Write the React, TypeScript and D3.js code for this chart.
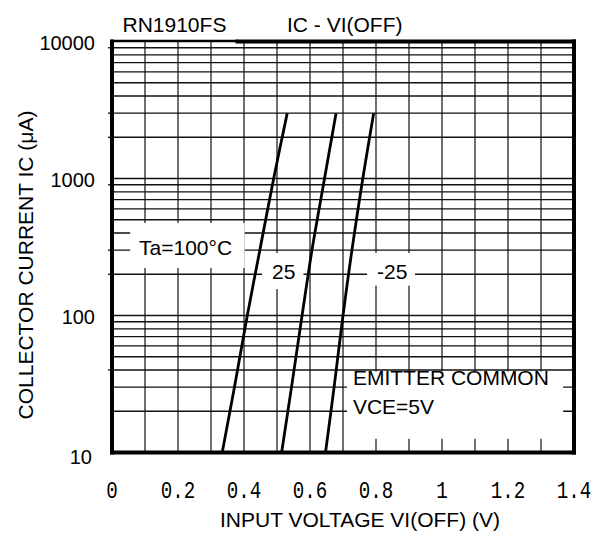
import React, { useEffect, useRef } from 'react'
import * as d3 from 'd3'

// collector current (µA) at which the curves were read
const current = [10, 30, 100, 300, 1000, 3000]
// input voltage VI(OFF) (V) for each temperature
const vTa100 = [0.334, 0.371, 0.410, 0.448, 0.490, 0.531]
const vTa25 = [0.514, 0.544, 0.576, 0.606, 0.644, 0.679]
const vTaM25 = [0.647, 0.673, 0.700, 0.727, 0.760, 0.793]

const xTicks = [0, 0.2, 0.4, 0.6, 0.8, 1, 1.2, 1.4]
const xTickLabels = ['0', '0.2', '0.4', '0.6', '0.8', '1', '1.2', '1.4']
const yTicks = [10, 100, 1000, 10000]
const yTickLabels = ['10', '100', '1000', '10000']

const W = 603
const H = 538
const M = { top: 41.5, right: 29, bottom: 85.5, left: 112 }
const FONT = '"Liberation Sans", Arial, sans-serif'
const MONO = '"Liberation Mono", "DejaVu Sans Mono", monospace'

const App = () => {
  const ref = useRef<SVGSVGElement>(null)

  useEffect(() => {
    const svg = d3.select(ref.current)
    svg.selectAll('*').remove()

    const x = d3.scaleLinear().domain([0, 1.4]).range([M.left, W - M.right])
    const y = d3.scaleLog().domain([10, 10000]).range([H - M.bottom, M.top])

    // grid
    const vGrid = d3.range(1, 14).map(i => i / 10)
    svg.append('g').selectAll('line').data(vGrid).join('line')
      .attr('x1', d => x(d)).attr('x2', d => x(d))
      .attr('y1', y(10)).attr('y2', y(10000))
      .attr('stroke', '#222').attr('stroke-width', 1.3)

    const hGrid = [10, 100, 1000]
      .flatMap(d => d3.range(1, 10).map(m => m * d))
      .filter(v => v > 10)
    svg.append('g').selectAll('line').data(hGrid).join('line')
      .attr('x1', x(0)).attr('x2', x(1.4))
      .attr('y1', d => y(d)).attr('y2', d => y(d))
      .attr('stroke', '#111').attr('stroke-width', 1.3)

    // little ticks sticking out left of the frame
    svg.append('g').selectAll('line').data([40, 200, 300, 900, 2000, 3000, 9000]).join('line')
      .attr('x1', x(0) - 4).attr('x2', x(0))
      .attr('y1', d => y(d)).attr('y2', d => y(d))
      .attr('stroke', '#111').attr('stroke-width', 1.3)

    // label backgrounds (they hide the grid)
    const boxes = [
      { v0: 0.055, v1: 0.402, i0: 473, i1: 222 },
      { v0: 0.455, v1: 0.58, i0: 286, i1: 156 },
      { v0: 0.773, v1: 0.918, i0: 286, i1: 165 },
      { v0: 0.712, v1: 1.367, i0: 39, i1: 12.6 },
    ]
    svg.append('g').selectAll('rect').data(boxes).join('rect')
      .attr('x', d => x(d.v0)).attr('y', d => y(d.i0))
      .attr('width', d => x(d.v1) - x(d.v0))
      .attr('height', d => y(d.i1) - y(d.i0))
      .attr('fill', 'white')

    // curves
    const line = d3.line<[number, number]>()
      .x(d => x(d[0])).y(d => y(d[1]))
      .curve(d3.curveCatmullRom)
    const series = [vTa100, vTa25, vTaM25]
    svg.append('g').selectAll('path').data(series).join('path')
      .attr('d', vs => line(vs.map((v, i) => [v, current[i]] as [number, number])))
      .attr('fill', 'none').attr('stroke', '#000').attr('stroke-width', 2.8)

    // frame
    const frame = svg.append('g').attr('stroke', '#000').attr('stroke-linecap', 'square')
    frame.append('line').attr('x1', x(0)).attr('x2', x(0)).attr('y1', y(10)).attr('y2', y(10000)).attr('stroke-width', 4)
    frame.append('line').attr('x1', x(1.4)).attr('x2', x(1.4)).attr('y1', y(10)).attr('y2', y(10000)).attr('stroke-width', 4)
    frame.append('line').attr('x1', x(0)).attr('x2', x(1.4)).attr('y1', y(10)).attr('y2', y(10)).attr('stroke-width', 4)
    frame.append('line').attr('x1', x(0.38)).attr('x2', x(1.4)).attr('y1', y(10000)).attr('y2', y(10000)).attr('stroke-width', 4)
    frame.append('line').attr('x1', x(0)).attr('x2', x(0.38)).attr('y1', y(10000) - 0.5).attr('y2', y(10000) - 0.5).attr('stroke-width', 2.5)

    // y tick labels
    svg.append('g').selectAll('text').data(yTicks).join('text')
      .attr('x', d => (d === 10 ? 92 : 95))
      .attr('y', d => y(d) + (d === 10 ? 11 : 8))
      .attr('text-anchor', 'end')
      .attr('font-family', FONT).attr('font-size', 20)
      .text((d, i) => yTickLabels[i])

    // x tick labels
    svg.append('g').selectAll('text').data(xTicks).join('text')
      .attr('x', d => x(d))
      .attr('y', 498)
      .attr('text-anchor', 'middle')
      .attr('font-family', MONO).attr('font-size', 24)
      .attr('textLength', (d, i) => xTickLabels[i].length * 11.5)
      .attr('lengthAdjust', 'spacingAndGlyphs')
      .text((d, i) => xTickLabels[i])

    const txt = (t: string, px: number, py: number, anchor = 'start') =>
      svg.append('text').attr('x', px).attr('y', py)
        .attr('text-anchor', anchor)
        .attr('font-family', FONT).attr('font-size', 21)
        .attr('fill', '#000').text(t)

    // titles
    txt('RN1910FS', 122.5, 32)
    txt('IC - VI(OFF)', 287, 32)
    txt('INPUT VOLTAGE VI(OFF) (V)', 360, 527, 'middle')
    txt('COLLECTOR CURRENT IC (μA)', 0, 0, 'middle')
      .attr('transform', 'translate(33,265) rotate(-90)')

    // curve labels
    txt('Ta=100°C', x(0.082), y(276))
    txt('25', x(0.485), y(185))
    txt('-25', x(0.803), y(185))
    txt('EMITTER COMMON', x(0.73), y(31))
    txt('VCE=5V', x(0.73), y(19))
  }, [])

  return (
    <svg ref={ref} width={W} height={H}
      style={{ position: 'absolute', left: 0, top: 0, background: 'white' }} />
  )
}

export default App
